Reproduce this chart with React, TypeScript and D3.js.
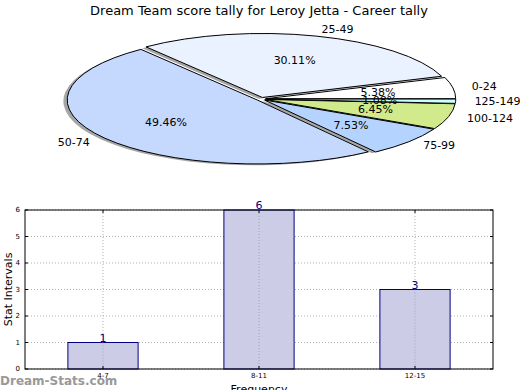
import React from "react";
import * as d3 from "d3";

// pie: score ranges, drawn counter-clockwise from 3 o'clock
const sliceLabels = ["0-24", "25-49", "50-74", "75-99", "100-124", "125-149"];
const slicePcts = [5.38, 30.11, 49.46, 7.53, 6.45, 1.08];
const sliceColors = ["#ffffff", "#ebf2ff", "#c5d8fe", "#b4d4ff", "#d1ea8c", "#ccffff"];

// bar chart
const barCats = ["4-7", "8-11", "12-15"];
const barValues = [1, 6, 3];
const yTicks = [0, 1, 2, 3, 4, 5, 6];

const W = 520;
const H = 390;
const font = "DejaVu Sans, sans-serif";

function Pie() {
  const cx = 261;
  const cy = 99;
  const rx = 190;
  const ry = 64;
  const explode = 0.025;

  const pie = d3
    .pie<number>()
    .sort(null)
    .value((d) => d)
    .startAngle(Math.PI / 2)
    .endAngle(Math.PI / 2 - 2 * Math.PI);
  const arcs = pie(slicePcts);
  const arc = d3.arc<d3.PieArcDatum<number>>().innerRadius(0).outerRadius(rx);

  const mid = (a: d3.PieArcDatum<number>) => (a.startAngle + a.endAngle) / 2;
  const sy = ry / rx;

  return (
    <g>
      {/* shadows */}
      <g transform={`translate(${cx - 0.02 * rx},${cy + 0.02 * ry}) scale(1,${sy})`}>
        {arcs.map((a, i) => {
          const m = mid(a);
          return (
            <path
              key={`sh-${i}`}
              d={arc(a) ?? ""}
              transform={`translate(${explode * rx * Math.sin(m)},${-explode * rx * Math.cos(m)})`}
              fill="#000"
              opacity={0.35}
            />
          );
        })}
      </g>
      <g transform={`translate(${cx},${cy}) scale(1,${sy})`}>
        {arcs.map((a, i) => {
          const m = mid(a);
          return (
            <path
              key={`sl-${i}`}
              d={arc(a) ?? ""}
              transform={`translate(${explode * rx * Math.sin(m)},${-explode * rx * Math.cos(m)})`}
              fill={sliceColors[i]}
              stroke="#000"
              strokeWidth={1}
              vectorEffect="non-scaling-stroke"
            />
          );
        })}
      </g>
      {arcs.map((a, i) => {
        const m = mid(a);
        const ux = Math.sin(m);
        const uy = -Math.cos(m);
        const ex = explode * rx * ux;
        const ey = explode * ry * uy;
        const lx = cx + ex + 1.1 * rx * ux;
        const ly = cy + ey + 1.1 * ry * uy;
        const px = cx + ex + 0.6 * rx * ux;
        const py = cy + ey + 0.6 * ry * uy;
        return (
          <g key={`lb-${i}`} fontFamily={font} fontSize={11} fill="#000">
            <text x={lx} y={ly} textAnchor={ux >= 0 ? "start" : "end"} dominantBaseline="central">
              {sliceLabels[i]}
            </text>
            <text x={px} y={py} textAnchor="middle" dominantBaseline="central">
              {slicePcts[i].toFixed(2)}%
            </text>
          </g>
        );
      })}
    </g>
  );
}

function Bars() {
  const left = 25;
  const right = 493;
  const top = 210;
  const bottom = 369;

  const x = d3.scaleBand<string>().domain(barCats).range([left, right]).padding(0);
  const y = d3.scaleLinear().domain([0, 6]).range([bottom, top]);
  const bw = x.bandwidth() * 0.45;

  return (
    <g fontFamily={font}>
      {/* grid */}
      {yTicks.map((t) => (
        <line key={`gy-${t}`} x1={left} x2={right} y1={y(t)} y2={y(t)} stroke="#b0b0b0" strokeDasharray="1,2" />
      ))}
      {barCats.map((c) => {
        const xc = (x(c) ?? 0) + x.bandwidth() / 2;
        return <line key={`gx-${c}`} x1={xc} x2={xc} y1={top} y2={bottom} stroke="#b0b0b0" strokeDasharray="1,2" />;
      })}
      {/* bars */}
      {barCats.map((c, i) => {
        const xc = (x(c) ?? 0) + x.bandwidth() / 2;
        return (
          <g key={`b-${c}`}>
            <rect
              x={xc - bw / 2}
              y={y(barValues[i])}
              width={bw}
              height={bottom - y(barValues[i])}
              fill="#ccccE6"
              stroke="#000080"
              strokeWidth={1}
            />
            <line x1={xc} x2={xc} y1={y(barValues[i])} y2={bottom} stroke="#a0a0b8" strokeDasharray="1,2" />
            <text x={xc} y={y(barValues[i]) - 1} textAnchor="middle" fontSize={11} fill="#000080">
              {barValues[i]}
            </text>
          </g>
        );
      })}
      {/* axes box */}
      <rect x={left} y={top} width={right - left} height={bottom - top} fill="none" stroke="#000" strokeWidth={1} />
      {yTicks.map((t) => (
        <g key={`ty-${t}`}>
          <line x1={left} x2={left + 3} y1={y(t)} y2={y(t)} stroke="#000" />
          <line x1={right - 3} x2={right} y1={y(t)} y2={y(t)} stroke="#000" />
          <text x={left - 5} y={y(t)} textAnchor="end" dominantBaseline="central" fontSize={7}>
            {t}
          </text>
        </g>
      ))}
      {barCats.map((c) => {
        const xc = (x(c) ?? 0) + x.bandwidth() / 2;
        return (
          <g key={`tx-${c}`}>
            <line x1={xc} x2={xc} y1={bottom} y2={bottom - 3} stroke="#000" />
            <line x1={xc} x2={xc} y1={top} y2={top + 3} stroke="#000" />
            <text x={xc} y={bottom + 9} textAnchor="middle" fontSize={7}>
              {c}
            </text>
          </g>
        );
      })}
      <text transform={`translate(12,${(top + bottom) / 2}) rotate(-90)`} textAnchor="middle" fontSize={11}>
        Stat Intervals
      </text>
      <text x={(left + right) / 2} y={393} textAnchor="middle" fontSize={11}>
        Frequency
      </text>
    </g>
  );
}

export default function App() {
  return (
    <svg width={W} height={H} style={{ position: "absolute", left: 0, top: 0, background: "#fff" }}>
      <rect width={W} height={H} fill="#fff" />
      <text x={259} y={15} textAnchor="middle" fontFamily={font} fontSize={13}>
        Dream Team score tally for Leroy Jetta - Career tally
      </text>
      <Pie />
      <Bars />
      <text x={0} y={385} fontFamily="DejaVu Sans, sans-serif" fontSize={12} fill="#999999" fontWeight="bold">
        Dream-Stats.com
      </text>
    </svg>
  );
}
